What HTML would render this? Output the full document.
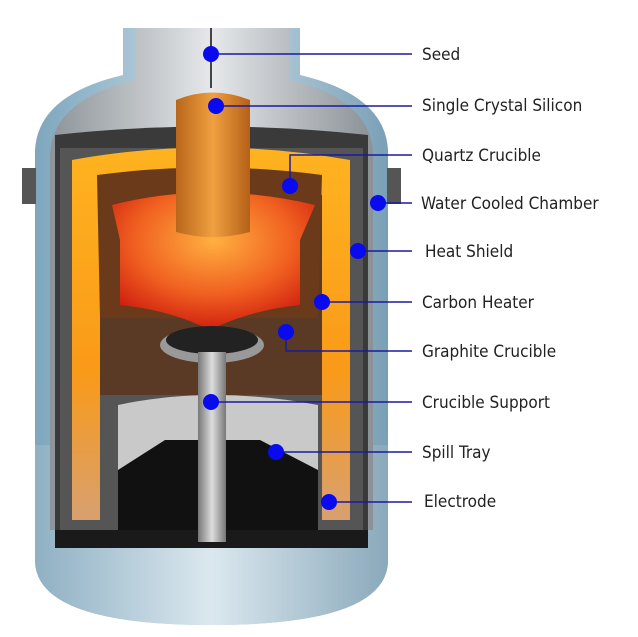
<!DOCTYPE html>
<html><head><meta charset="utf-8"><style>
html,body{margin:0;padding:0;background:#fff;}
svg{display:block}
text{font-family:"DejaVu Sans Condensed","Liberation Sans Narrow","Liberation Sans",sans-serif;font-size:17px;fill:#222;}
</style></head><body>
<svg width="638" height="637" viewBox="0 0 638 637" xmlns="http://www.w3.org/2000/svg">
<defs>
<linearGradient id="blue" x1="0" x2="1"><stop offset="0" stop-color="#7ea6bd"/><stop offset=".5" stop-color="#c9dde8"/><stop offset="1" stop-color="#7aa0b6"/></linearGradient>
<linearGradient id="base" x1="0" x2="1"><stop offset="0" stop-color="#8fb0c3"/><stop offset=".5" stop-color="#dbe8ef"/><stop offset="1" stop-color="#8aa9bb"/></linearGradient>
<linearGradient id="gray" x1="0" x2="1"><stop offset="0" stop-color="#8d9499"/><stop offset=".5" stop-color="#e6e8ea"/><stop offset="1" stop-color="#8a9196"/></linearGradient>
<linearGradient id="orange" x1="0" x2="0" y1="0" y2="1"><stop offset="0" stop-color="#ffb320"/><stop offset=".6" stop-color="#f99a18"/><stop offset="1" stop-color="#d8a070"/></linearGradient>
<linearGradient id="crys" x1="0" x2="1"><stop offset="0" stop-color="#b8661a"/><stop offset=".5" stop-color="#f0a040"/><stop offset="1" stop-color="#b56018"/></linearGradient>
<radialGradient id="melt" cx=".5" cy=".35" r=".65"><stop offset="0" stop-color="#ffb040"/><stop offset=".6" stop-color="#f06020"/><stop offset="1" stop-color="#d02010"/></radialGradient>
<linearGradient id="shaft" x1="0" x2="1"><stop offset="0" stop-color="#777"/><stop offset=".5" stop-color="#ddd"/><stop offset="1" stop-color="#777"/></linearGradient>
</defs>
<path d="M123,28 L300,28 L300,75 Q385,95 388,150 L388,560 Q388,625 212,625 Q35,625 35,560 L35,150 Q38,95 123,75 Z" fill="url(#blue)"/>
<path d="M35,445 L388,445 L388,560 Q388,625 212,625 Q35,625 35,560 Z" fill="url(#base)"/>
<rect x="22" y="168" width="14" height="36" fill="#555"/>
<rect x="387" y="168" width="14" height="36" fill="#555"/>
<path d="M135,28 L290,28 L290,80 Q372,100 373,155 L373,530 L50,530 L50,155 Q52,100 135,80 Z" fill="url(#gray)"/>
<path d="M55,135 Q210,118 368,135 L368,540 L55,540 Z" fill="#3a3a3a"/>
<rect x="60" y="148" width="303" height="392" fill="#555"/>
<path d="M72,160 Q210,135 350,160 L350,520 L322,520 L322,195 Q210,178 100,195 L100,520 L72,520 Z" fill="url(#orange)"/>
<rect x="100" y="195" width="222" height="200" fill="#5a3a25"/>
<path d="M97,175 Q210,160 322,175 L318,318 L100,318 Z" fill="#6b3a1a"/>
<path d="M112,205 Q210,180 315,205 L300,240 L300,305 Q250,310 210,330 Q170,310 120,305 L120,240 Z" fill="url(#melt)"/>
<ellipse cx="212" cy="345" rx="52" ry="18" fill="#999"/>
<ellipse cx="212" cy="340" rx="46" ry="14" fill="#222"/>
<path d="M118,405 Q212,385 318,405 L318,520 L118,520 Z" fill="#c9c9c9"/>
<path d="M118,470 L165,440 L260,440 L318,470 L318,545 L118,545 Z" fill="#111"/>
<rect x="55" y="530" width="313" height="18" fill="#1a1a1a"/>
<rect x="198" y="352" width="28" height="190" fill="url(#shaft)"/>
<path d="M176,100 Q212,85 250,100 L250,232 Q212,242 176,232 Z" fill="url(#crys)"/>
<line x1="211" y1="28" x2="211" y2="88" stroke="#444" stroke-width="2"/>
<g stroke="#1a1aa0" stroke-width="1.5" fill="none">
<line x1="211" y1="54" x2="412" y2="54"/>
<line x1="216" y1="106" x2="412" y2="106"/>
<polyline points="290,186 290,155 412,155"/>
<line x1="378" y1="203" x2="412" y2="203"/>
<line x1="358" y1="251" x2="412" y2="251"/>
<line x1="322" y1="302" x2="412" y2="302"/>
<polyline points="286,332 286,351 412,351"/>
<line x1="211" y1="402" x2="412" y2="402"/>
<line x1="276" y1="452" x2="412" y2="452"/>
<line x1="329" y1="502" x2="412" y2="502"/>
</g>
<g fill="#0a0aee">
<ellipse cx="211" cy="54" rx="8" ry="8"/>
<ellipse cx="216" cy="106" rx="8" ry="8"/>
<ellipse cx="290" cy="186" rx="8" ry="8"/>
<ellipse cx="378" cy="203" rx="8" ry="8"/>
<ellipse cx="358" cy="251" rx="8" ry="8"/>
<ellipse cx="322" cy="302" rx="8" ry="8"/>
<ellipse cx="286" cy="332" rx="8" ry="8"/>
<ellipse cx="211" cy="402" rx="8" ry="8"/>
<ellipse cx="276" cy="452" rx="8" ry="8"/>
<ellipse cx="329" cy="502" rx="8" ry="8"/>
</g>
<text x="422" y="60">Seed</text>
<text x="422" y="111">Single Crystal Silicon</text>
<text x="422" y="161">Quartz Crucible</text>
<text x="421" y="209">Water Cooled Chamber</text>
<text x="425" y="257">Heat Shield</text>
<text x="422" y="308">Carbon Heater</text>
<text x="422" y="357">Graphite Crucible</text>
<text x="422" y="408">Crucible Support</text>
<text x="422" y="458">Spill Tray</text>
<text x="424" y="507">Electrode</text>
</svg>
</body></html>
